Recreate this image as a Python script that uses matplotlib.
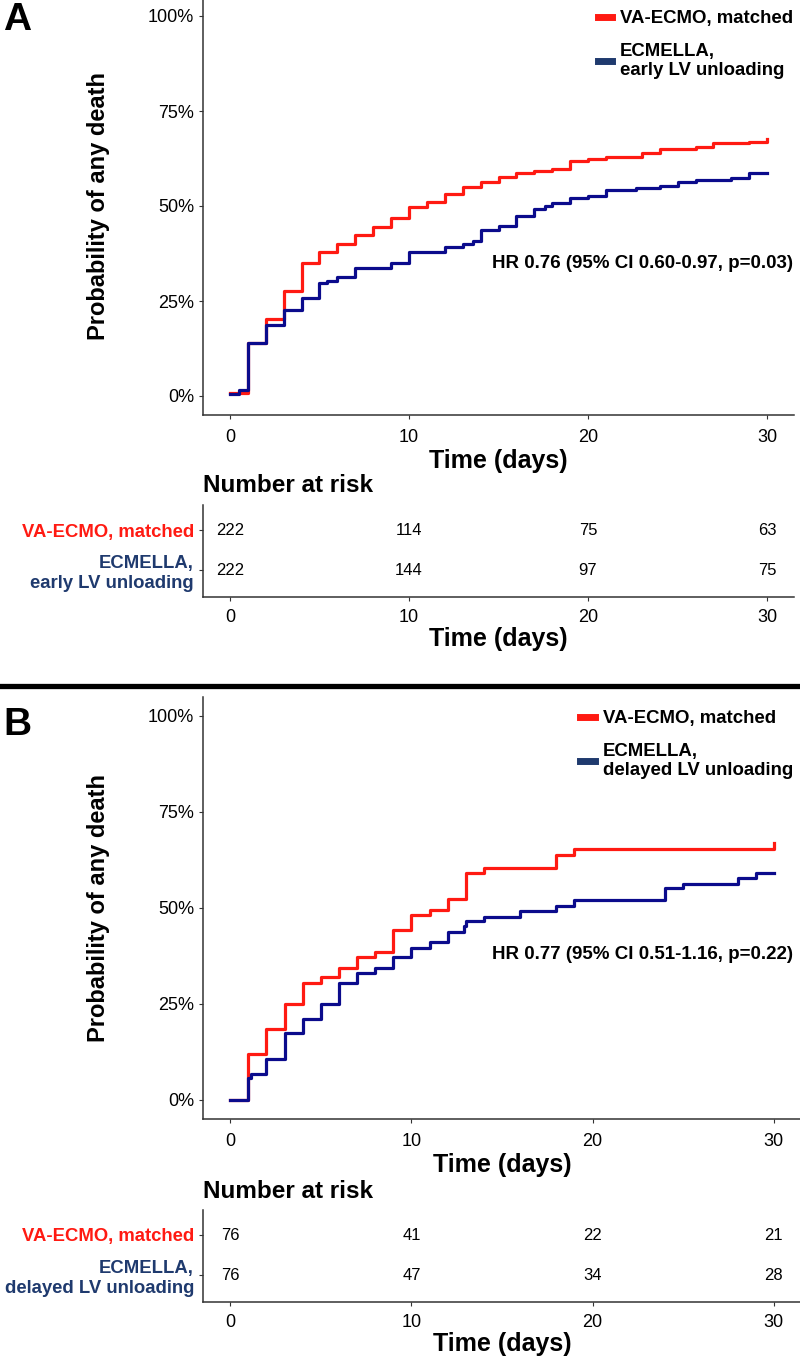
import matplotlib
matplotlib.use('Agg')
import matplotlib.pyplot as plt
from matplotlib.lines import Line2D
import numpy as np

plt.rcParams['font.family'] = ['Liberation Sans', 'DejaVu Sans']

# ---- data ----
# panel A: early LV unloading
a_red_t = [0, 1, 2, 3, 4, 5, 6, 7, 8, 9, 10, 11, 12, 13, 14, 15, 16, 17, 18, 19, 20, 21, 23, 24, 26, 27, 29, 30]
a_red_v = [0.8, 14.0, 20.2, 27.7, 34.9, 37.8, 40.0, 42.3, 44.6, 46.9, 49.8, 51.1, 53.1, 54.9, 56.2, 57.7,
           58.7, 59.2, 59.7, 61.8, 62.4, 62.9, 63.9, 64.9, 65.4, 66.5, 66.9, 67.6]
a_blue_t = [0, 0.5, 1, 2, 3, 4, 5, 5.4, 6, 7, 9, 10, 12, 13, 13.6, 14, 15, 16, 17, 17.6, 18, 19, 20, 21,
            22.7, 24, 25, 26, 28, 29, 30]
a_blue_v = [0.6, 1.5, 14.0, 18.6, 22.6, 25.8, 29.7, 30.2, 31.2, 33.8, 35.1, 37.9, 39.1, 40.1, 40.8, 43.8,
            44.7, 47.4, 49.3, 50.0, 50.7, 52.2, 52.7, 54.2, 54.7, 55.3, 56.4, 56.8, 57.3, 58.6, 58.6]
a_risk_red = [222, 114, 75, 63]
a_risk_blue = [222, 144, 97, 75]
a_hr = 'HR 0.76 (95% CI 0.60-0.97, p=0.03)'
a_hr_y = 0.35
a_blue_name = 'ECMELLA,\nearly LV unloading'

# panel B: delayed LV unloading
b_red_t = [0, 1, 2, 3, 4, 5, 6, 7, 8, 9, 10, 11, 12, 13, 14, 18, 19, 30]
b_red_v = [0, 11.9, 18.5, 25.0, 30.4, 32.0, 34.5, 37.3, 38.6, 44.3, 48.2, 49.5, 52.3, 59.2, 60.5, 63.8, 65.4, 66.8]
b_blue_t = [0, 1, 1.15, 2, 3, 4, 5, 6, 7, 8, 9, 10, 11, 12, 12.9, 13, 14, 16, 18, 19, 24, 25, 28, 29, 30]
b_blue_v = [0, 5.6, 6.8, 10.7, 17.4, 21.1, 25.0, 30.4, 33.0, 34.5, 37.2, 39.7, 41.1, 43.8, 45.3, 46.6,
            47.7, 49.3, 50.5, 52.1, 55.1, 56.2, 57.7, 59.2, 59.2]
b_risk_red = [76, 41, 22, 21]
b_risk_blue = [76, 47, 34, 28]
b_hr = 'HR 0.77 (95% CI 0.51-1.16, p=0.22)'
b_hr_y = 0.378
b_blue_name = 'ECMELLA,\ndelayed LV unloading'

red_name = 'VA-ECMO, matched'
risk_times = [0, 10, 20, 30]
x_ticks = [0, 10, 20, 30]
y_ticks = [0, 0.25, 0.5, 0.75, 1.0]
y_labels = ['0%', '25%', '50%', '75%', '100%']

RED = '#FF1A12'
NAVY = '#0B0B8C'
LBLUE = '#1F3A6E'
AXC = '#333333'

W, H = 800, 1364
fig = plt.figure(figsize=(W / 100, H / 100), dpi=100, facecolor='white')


def rect(l, r, t, b):
    return [l / W, 1 - b / H, (r - l) / W, (b - t) / H]


def style(ax, pad):
    for s in ['top', 'right']:
        ax.spines[s].set_visible(False)
    for s in ['left', 'bottom']:
        ax.spines[s].set_color(AXC); ax.spines[s].set_linewidth(1.1)
    ax.tick_params(colors=AXC, length=3, width=0.8, labelcolor='black', labelsize=13)
    ax.tick_params(axis='x', pad=pad)
    ax.set_xlim(-1.5, 31.5)
    ax.set_xticks(x_ticks)
    ax.set_facecolor('none')


def panel(letter, y100, y0, off, right, red_t, red_v, blue_t, blue_v, hr, hr_y, blue_name,
          risk_red, risk_blue):
    # main KM plot; 0% / 100% pixel rows define the box (ggplot 5% expansion)
    span = y0 - y100
    ax = fig.add_axes(rect(203, right, y100 - 0.05 * span, y0 + 0.05 * span))
    ax.step(red_t, np.array(red_v) / 100, where='post', color=RED, lw=2.3)
    ax.step(blue_t, np.array(blue_v) / 100, where='post', color=NAVY, lw=2.3)
    style(ax, 7)
    ax.set_ylim(-0.05, 1.05)
    ax.set_yticks(y_ticks, y_labels)
    ax.set_xlabel('Time (days)', fontsize=18, fontweight='bold', labelpad=2)
    ax.set_ylabel('Probability of any death', fontsize=17, fontweight='bold', labelpad=27)
    ax.text((793 - 203) / (right - 203), hr_y, hr, transform=ax.get_yaxis_transform(),
            ha='right', va='center', fontsize=13.5, fontweight='bold')
    handles = [Line2D([], [], color=RED, lw=5), Line2D([], [], color=LBLUE, lw=5)]
    ax.legend(handles, [red_name, blue_name], loc='upper right',
              bbox_to_anchor=(793 / W, 1 - (y100 - 6) / H), bbox_transform=fig.transFigure,
              frameon=False, handlelength=0.8, handletextpad=0.4, labelspacing=0.85,
              borderaxespad=0, borderpad=0, prop={'weight': 'bold', 'size': 13.4})
    fig.text(3 / W, 1 - (off + 20) / H, letter, fontsize=28, fontweight='bold', va='center')

    # risk table
    fig.text(203 / W, 1 - (off + 486) / H, 'Number at risk', fontsize=17.5,
             fontweight='bold', va='center')
    tab = fig.add_axes(rect(203, right, off + 505, off + 597))
    style(tab, 5.7)
    tab.set_ylim(0.325, 2.625)
    tab.set_yticks([2, 1], [red_name, blue_name])
    for lab, c in zip(tab.get_yticklabels(), [RED, LBLUE]):
        lab.set_color(c); lab.set_fontweight('bold'); lab.set_fontsize(13.3)
    for t, n in zip(risk_times, risk_red):
        tab.text(t, 2, str(n), ha='center', va='center', fontsize=12)
    for t, n in zip(risk_times, risk_blue):
        tab.text(t, 1, str(n), ha='center', va='center', fontsize=12)
    tab.set_xlabel('Time (days)', fontsize=18, fontweight='bold', labelpad=0.5)


panel('A', 16, 396, 0, 794, a_red_t, a_red_v, a_blue_t, a_blue_v, a_hr, a_hr_y, a_blue_name,
      a_risk_red, a_risk_blue)
panel('B', 716, 1100, 705, 801, b_red_t, b_red_v, b_blue_t, b_blue_v, b_hr, b_hr_y, b_blue_name,
      b_risk_red, b_risk_blue)

# thick separator between the panels
fig.add_artist(Line2D([0, 1], [1 - 686 / H, 1 - 686 / H], color='black', lw=3.8,
                      transform=fig.transFigure))

fig.savefig('out.png', dpi=100)
